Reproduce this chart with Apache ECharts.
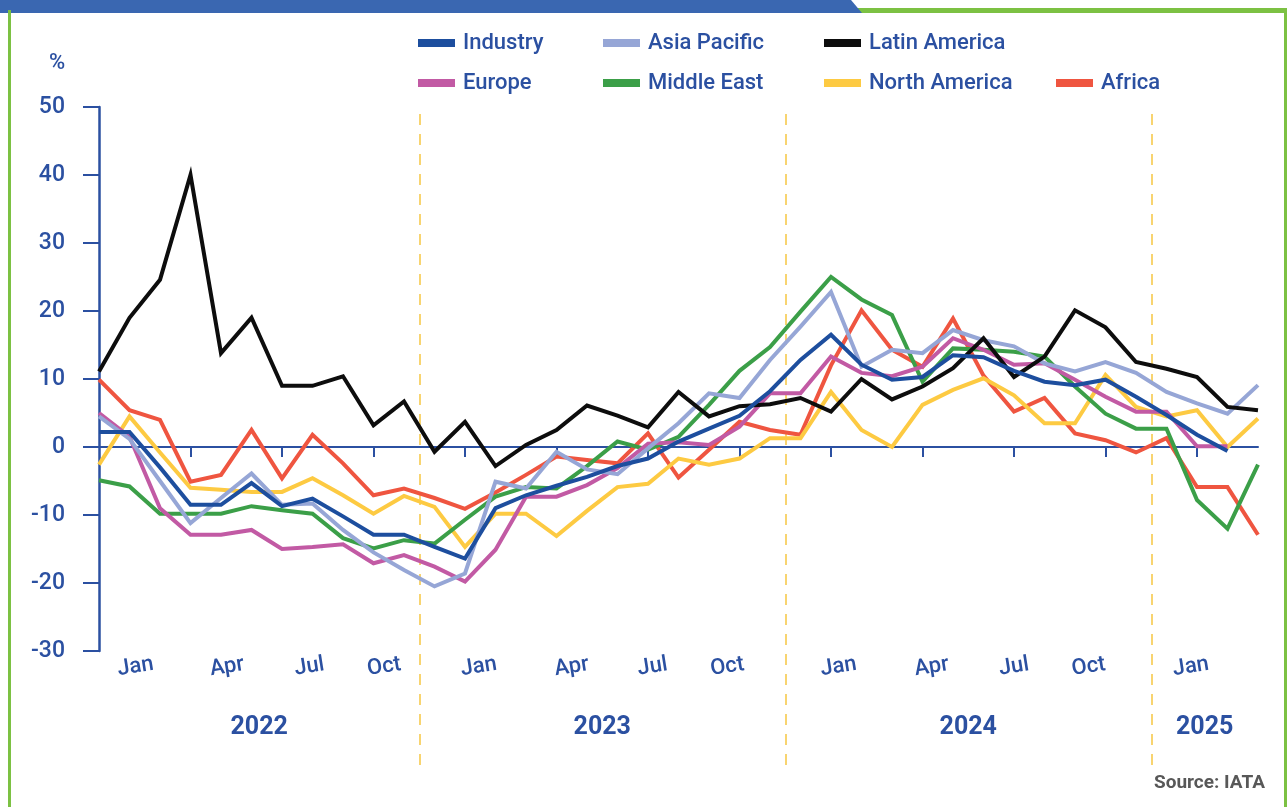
<!DOCTYPE html>
<html>
<head>
<meta charset="utf-8">
<title>Air cargo growth by region</title>
<script src="https://cdn.jsdelivr.net/npm/echarts@6.0.0/dist/echarts.min.js"></script>
<style>
  html, body { margin: 0; padding: 0; background: #fff; }
  #chart { width: 1287px; height: 807px; }
</style>
</head>
<body>
<div id="chart"></div>
<script>
// % change, one value per month (index 0 = first month shown)
const industry = [2.2, 2.2, -3.0, -8.5, -8.5, -5.3, -8.7, -7.6, -10.2, -12.9, -12.9, -14.7, -16.4, -9.0, -7.1, -5.7, -4.4, -2.8, -1.7, 0.8, 2.7, 4.6, 8.2, 12.8, 16.5, 12.1, 9.9, 10.3, 13.5, 13.2, 11.2, 9.6, 9.1, 9.9, 7.4, 4.7, 1.8, -0.6];
const asiaPacific = [4.5, 1.2, -5.0, -11.2, -7.5, -3.9, -8.5, -8.3, -12.2, -15.5, -18.1, -20.5, -18.6, -5.1, -6.1, -0.7, -3.3, -4.0, -0.2, 3.5, 7.9, 7.2, 12.8, 17.7, 22.8, 11.8, 14.3, 13.8, 17.2, 15.7, 14.8, 12.3, 11.1, 12.5, 10.9, 8.1, 6.4, 4.9, 9.1];
const latinAmerica = [11.1, 19.0, 24.6, 40.0, 13.8, 19.0, 9.0, 9.0, 10.4, 3.2, 6.7, -0.7, 3.7, -2.8, 0.3, 2.5, 6.1, 4.6, 2.9, 8.1, 4.5, 6.0, 6.3, 7.2, 5.2, 10.0, 7.0, 8.9, 11.6, 16.0, 10.3, 13.3, 20.1, 17.6, 12.5, 11.5, 10.3, 5.9, 5.4];
const europe = [5.0, 1.5, -9.0, -12.9, -12.9, -12.2, -15.0, -14.7, -14.3, -17.1, -15.9, -17.6, -19.8, -15.1, -7.3, -7.3, -5.6, -3.1, 0.5, 0.7, 0.3, 3.0, 7.9, 7.9, 13.3, 10.9, 10.4, 11.8, 16.0, 14.3, 12.1, 12.3, 9.9, 7.4, 5.2, 5.2, 0.1, 0.1];
const middleEast = [-4.9, -5.8, -9.8, -9.8, -9.8, -8.7, -9.3, -9.8, -13.4, -14.9, -13.7, -14.2, -10.7, -7.3, -5.9, -6.1, -2.8, 0.8, -0.4, 1.5, 6.2, 11.2, 14.7, 19.9, 25.0, 21.7, 19.4, 9.6, 14.5, 14.3, 14.0, 13.3, 8.9, 4.9, 2.7, 2.7, -7.8, -12.0, -2.6];
const northAmerica = [-2.6, 4.5, -0.8, -6.0, -6.3, -6.6, -6.6, -4.6, -7.1, -9.8, -7.2, -8.8, -14.7, -9.8, -9.8, -13.1, -9.4, -5.9, -5.4, -1.7, -2.6, -1.7, 1.3, 1.3, 8.1, 2.5, 0.0, 6.2, 8.4, 10.1, 7.6, 3.5, 3.5, 10.6, 5.9, 4.5, 5.4, 0.0, 4.2];
const africa = [9.9, 5.4, 4.0, -5.1, -4.1, 2.5, -4.6, 1.8, -2.4, -7.1, -6.1, -7.5, -9.1, -6.7, -4.1, -1.4, -1.9, -2.4, 2.0, -4.5, -0.4, 3.7, 2.5, 1.8, 12.0, 20.1, 14.3, 11.8, 18.9, 10.5, 5.2, 7.2, 2.0, 1.0, -0.8, 1.3, -5.9, -5.9, -12.9];

const monthLabels = ['Jan', 'Apr', 'Jul', 'Oct', 'Jan', 'Apr', 'Jul', 'Oct', 'Jan', 'Apr', 'Jul', 'Oct', 'Jan'];
// where each month label sits on the month scale
const monthLabelAt = [1.2, 4.2, 6.9, 9.35, 12.45, 15.5, 18.15, 20.6, 24.25, 27.3, 30.0, 32.45, 35.8];
const yearLabels = ['2022', '2023', '2024', '2025'];
const yearBreaks = [10.5, 22.5, 34.5]; // dashed separators between years

const lastIdx = 38;
const blue = '#2b50a1';
const font = 'Roboto, "Noto Sans", sans-serif';

const monthCats = [];
for (let i = 0; i <= lastIdx; i++) monthCats.push(String(i));
const yearEdges = [0].concat(yearBreaks, [lastIdx]);
const yearAt = yearLabels.map((y, i) => (yearEdges[i] + yearEdges[i + 1]) / 2);

const lines = [
	{ name: 'Africa', data: africa, color: '#ef5540' },
	{ name: 'North America', data: northAmerica, color: '#fdca42' },
	{ name: 'Middle East', data: middleEast, color: '#3b9f48' },
	{ name: 'Europe', data: europe, color: '#c25aa4' },
	{ name: 'Asia Pacific', data: asiaPacific, color: '#96a6d6' },
	{ name: 'Latin America', data: latinAmerica, color: '#0d0d0d' },
	{ name: 'Industry', data: industry, color: '#1d4e9e' }
];

const legendCols = [
	{ left: 413, top: 25, data: ['Industry', 'Europe'] },
	{ left: 598, top: 25, data: ['Asia Pacific', 'Middle East'] },
	{ left: 819, top: 25, data: ['Latin America', 'North America'] },
	{ left: 1051, top: 65, data: ['Africa'] }
];

const chart = echarts.init(document.getElementById('chart'));

const series = lines.map(s => ({
	name: s.name,
	type: 'line',
	xAxisIndex: 0,
	yAxisIndex: 0,
	data: s.data.map((v, i) => [i, v]),
	color: s.color,
	showSymbol: false,
	lineStyle: { width: 4, color: s.color, join: 'miter' }
}));

// year separators live in a taller grid so they run down through the labels
series.push({
	type: 'line',
	xAxisIndex: 3,
	yAxisIndex: 1,
	data: [],
	silent: true,
	markLine: {
		symbol: 'none',
		silent: true,
		z: 1,
		label: { show: false },
		lineStyle: { color: '#f8d470', width: 2, type: [11, 9] },
		data: yearBreaks.map(x => ({ xAxis: x }))
	}
});

const option = {
	animation: false,
	backgroundColor: '#fff',
	legend: legendCols.map(c => ({
		left: c.left,
		top: c.top,
		orient: 'vertical',
		data: c.data,
		icon: 'rect',
		itemWidth: 37,
		itemHeight: 8,
		itemGap: 14,
		selectedMode: false,
		textStyle: { color: blue, fontSize: 22, fontWeight: 500, fontFamily: font, lineHeight: 26, padding: [0, 0, 0, 3] }
	})),
	grid: [
		{ left: 99, right: 29, top: 107, bottom: 156 },
		{ left: 99, right: 29, top: 107, bottom: 42 }
	],
	xAxis: [
		{
			gridIndex: 0, type: 'category', data: monthCats, boundaryGap: false,
			axisLine: { onZero: true, lineStyle: { color: blue, width: 2 } },
			axisTick: { show: true, interval: i => i > 0 && i % 3 === 0, length: 10, lineStyle: { color: blue, width: 2 } },
			axisLabel: { show: false },
			splitLine: { show: false }
		},
		{
			gridIndex: 0, type: 'value', min: 0, max: lastIdx, position: 'bottom',
			axisLine: { show: false, onZero: false },
			axisTick: { show: false },
			splitLine: { show: false },
			axisLabel: {
				customValues: monthLabelAt,
				formatter: v => monthLabels[monthLabelAt.indexOf(v)],
				rotate: 9, align: 'center', margin: 16,
				color: blue, fontSize: 22, fontWeight: 500, fontFamily: font
			}
		},
		{
			gridIndex: 0, type: 'value', min: 0, max: lastIdx, position: 'bottom',
			axisLine: { show: false, onZero: false },
			axisTick: { show: false },
			splitLine: { show: false },
			axisLabel: {
				customValues: yearAt,
				formatter: v => yearLabels[yearAt.indexOf(v)],
				margin: 64,
				color: blue, fontSize: 25, fontWeight: 'bold', fontFamily: font
			}
		},
		{ gridIndex: 1, type: 'value', min: 0, max: lastIdx, show: false }
	],
	yAxis: [
		{
			gridIndex: 0, type: 'value', min: -30, max: 50, interval: 10,
			name: '%', nameLocation: 'end', nameGap: 33,
			nameTextStyle: { color: blue, fontSize: 22, fontWeight: 500, fontFamily: font, padding: [0, 84, 0, 0] },
			axisLine: { show: true, onZero: false, lineStyle: { color: blue, width: 2.5 } },
			axisTick: { show: true, length: 16, lineStyle: { color: blue, width: 2 } },
			axisLabel: { margin: 34, color: blue, fontSize: 23, fontWeight: 500, fontFamily: font },
			splitLine: { show: false }
		},
		{ gridIndex: 1, type: 'value', min: 0, max: 1, show: false }
	],
	graphic: [
		{ type: 'rect', shape: { x: 850, y: 8, width: 437, height: 5 }, style: { fill: '#7cc143' } },
		{ type: 'polygon', shape: { points: [[0, 0], [851, 0], [862, 13], [0, 13]] }, style: { fill: '#3a67b1' } },
		{ type: 'rect', shape: { x: 8, y: 10, width: 3, height: 797 }, style: { fill: '#7cc143' } },
		{ type: 'rect', shape: { x: 1284, y: 8, width: 3, height: 799 }, style: { fill: '#7cc143' } },
		{ type: 'text', right: 22, top: 774, style: { text: 'Source: IATA', fill: '#585858', font: 'bold 19px Roboto, sans-serif' } }
	],
	series: series
};

chart.setOption(option);
</script>
</body>
</html>
